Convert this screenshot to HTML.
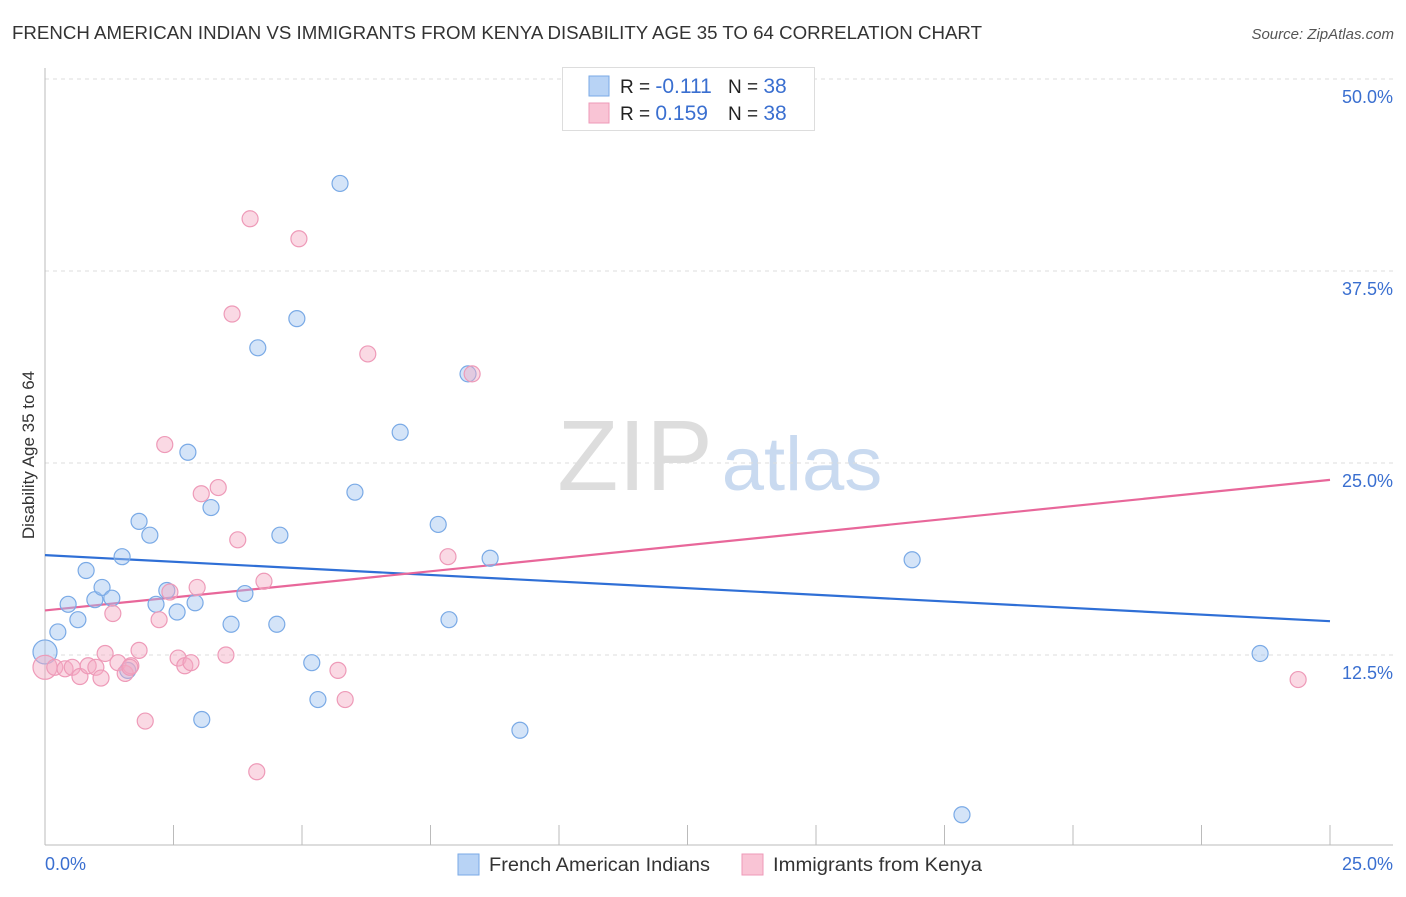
<!DOCTYPE html>
<html><head><meta charset="utf-8">
<style>
body{margin:0;background:#fff;font-family:"Liberation Sans",sans-serif;}
svg text{font-family:"Liberation Sans",sans-serif;}
</style></head>
<body>
<svg id="c" width="1406" height="892">
<text x="12" y="39" font-size="18" fill="#333" textLength="970" lengthAdjust="spacingAndGlyphs">FRENCH AMERICAN INDIAN VS IMMIGRANTS FROM KENYA DISABILITY AGE 35 TO 64 CORRELATION CHART</text>
<text x="1394" y="39" font-size="15" fill="#555" font-style="italic" text-anchor="end">Source: ZipAtlas.com</text>
<text x="34" y="455" font-size="17" fill="#333" text-anchor="middle" transform="rotate(-90 34 455)">Disability Age 35 to 64</text>
<g>
<text x="635" y="490" font-size="100" fill="#ddd" font-family="Liberation Serif" text-anchor="middle">ZIP</text>
<text x="802" y="490" font-size="76" fill="#c9daf0" text-anchor="middle">atlas</text>
</g>
<g id="grid"></g>
<g id="axes"></g>
<g id="lines"></g>
<g id="pts"></g>
<g>
<rect x="562.5" y="67.5" width="252" height="63" fill="#fff" stroke="#ddd"/>
<rect x="589" y="76" width="20" height="20" fill="#b8d3f5" stroke="#7aaae6"/>
<rect x="589" y="103" width="20" height="20" fill="#f9c4d5" stroke="#ee9ab8"/>
<text x="620" y="93" font-size="19" fill="#222">R = <tspan fill="#3a6fd0" font-size="21">-0.111</tspan></text>
<text x="728" y="93" font-size="19" fill="#222">N = <tspan fill="#3a6fd0" font-size="21">38</tspan></text>
<text x="620" y="120" font-size="19" fill="#222">R = <tspan fill="#3a6fd0" font-size="21"> 0.159</tspan></text>
<text x="728" y="120" font-size="19" fill="#222">N = <tspan fill="#3a6fd0" font-size="21">38</tspan></text>
</g>
<g>
<rect x="458" y="854" width="21" height="21" fill="#b8d3f5" stroke="#7aaae6"/>
<text x="489" y="871" font-size="19" fill="#333" textLength="221" lengthAdjust="spacingAndGlyphs">French American Indians</text>
<rect x="742" y="854" width="21" height="21" fill="#f9c4d5" stroke="#ee9ab8"/>
<text x="773" y="871" font-size="19" fill="#333" textLength="209" lengthAdjust="spacingAndGlyphs">Immigrants from Kenya</text>
</g>
</svg>
<script>
const yTicks=[12.5,25,37.5,50];
const yTickLabels=["12.5%","25.0%","37.5%","50.0%"];
const xTickLabels=["0.0%","25.0%"];
const blueX=[0,0.25,0.45,0.64,0.80,0.97,1.11,1.30,1.50,1.61,1.83,2.04,2.16,2.37,2.57,2.78,2.92,3.05,3.23,3.62,3.89,4.14,4.51,4.57,4.90,5.19,5.31,5.74,6.03,6.91,7.65,7.86,8.23,8.66,9.24,16.87,17.84,23.64];
const blueY=[12.7,14.0,15.8,14.8,18.0,16.1,16.9,16.2,18.9,11.5,21.2,20.3,15.8,16.7,15.3,25.7,15.9,8.3,22.1,14.5,16.5,32.5,14.5,20.3,34.4,12.0,9.6,43.2,23.1,27.0,21.0,14.8,30.8,18.8,7.6,18.7,2.1,12.6];
const pinkX=[0,0.19,0.39,0.53,0.68,0.84,0.99,1.09,1.17,1.32,1.42,1.56,1.67,1.83,1.95,2.22,2.33,2.43,2.59,2.72,2.84,2.96,3.04,3.37,3.52,3.64,3.75,3.99,4.12,4.26,4.94,5.70,5.84,6.28,7.84,8.31,24.38,1.65];
const pinkY=[11.7,11.7,11.6,11.7,11.1,11.8,11.7,11.0,12.6,15.2,12.0,11.3,11.8,12.8,8.2,14.8,26.2,16.6,12.3,11.8,12.0,16.9,23.0,23.4,12.5,34.7,20.0,40.9,4.9,17.3,39.6,11.5,9.6,32.1,18.9,30.8,10.9,11.7];
const blueTrend=[19.0,14.7];
const pinkTrend=[15.4,23.9];
const NS="http://www.w3.org/2000/svg";
const X=v=>45+v*51.4, Y=v=>847-v*15.36;
function mk(t,a,p){const e=document.createElementNS(NS,t);for(const k in a)e.setAttribute(k,a[k]);p.appendChild(e);return e;}
const grid=document.getElementById('grid'),axes=document.getElementById('axes'),lines=document.getElementById('lines'),pts=document.getElementById('pts');
yTicks.forEach((t,i)=>{
 const l=mk('line',{x1:45,x2:1393,y1:Y(t),y2:Y(t),stroke:'#ddd','stroke-dasharray':'4,4'},grid);
 
 
 const tx=mk('text',{x:1393,y:Y(t)+24,'font-size':18,fill:'#3a6fd0','text-anchor':'end'},axes);
 tx.textContent=yTickLabels[i];
 
 
});
const ax=mk('line',{x1:45,x2:1393,y1:845,y2:845,stroke:'#bbb'},axes);


const ay=mk('line',{x1:45,x2:45,y1:68,y2:845,stroke:'#bbb'},axes);


for(let i=0;i<=10;i++){const t=mk('line',{x1:X(i*2.5),x2:X(i*2.5),y1:825,y2:845,stroke:'#bbb'},axes);
 
 }
[[0,'start',45],[25,'end',1393]].forEach((d,i)=>{const t=mk('text',{x:d[2],y:870,'font-size':18,fill:'#3a6fd0','text-anchor':d[1]},axes);t.textContent=xTickLabels[i];
 
 });
function pointsFor(xs,ys,fill,stroke,name){xs.forEach((x,i)=>{const r=i===0?12:8;
 const c=mk('circle',{cx:X(x),cy:Y(ys[i]),r:r,fill:fill,stroke:stroke,'stroke-width':1.2},pts);
 
 });}
pointsFor(blueX,blueY,'rgba(160,196,240,0.45)','#7aaae6','french-american-indian-point');
pointsFor(pinkX,pinkY,'rgba(244,170,195,0.45)','#ee9ab8','kenya-immigrant-point');
const bl=mk('line',{x1:X(0),x2:X(25),y1:Y(blueTrend[0]),y2:Y(blueTrend[1]),stroke:'#2f6fd6','stroke-width':2.2},lines);


const pl=mk('line',{x1:X(0),x2:X(25),y1:Y(pinkTrend[0]),y2:Y(pinkTrend[1]),stroke:'#e8679a','stroke-width':2.2},lines);


</script>
</body></html>
